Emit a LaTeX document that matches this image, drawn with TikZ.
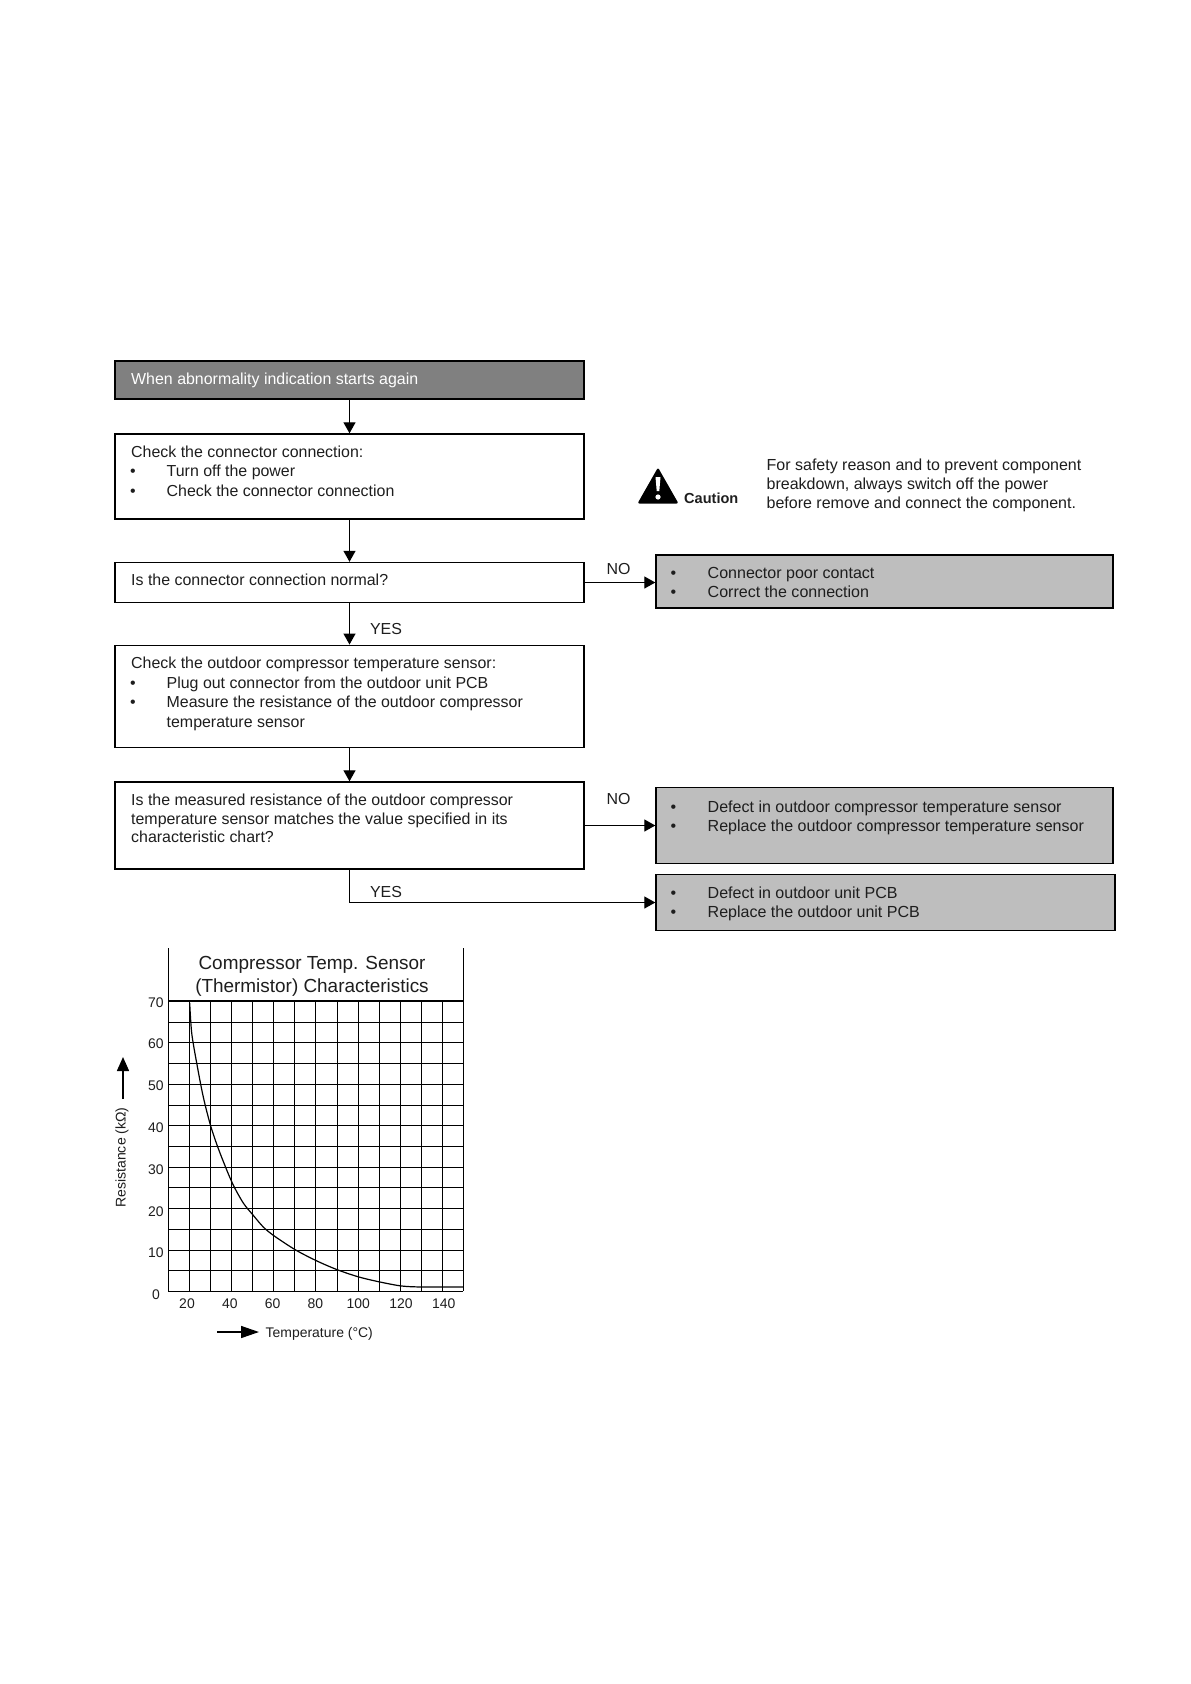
\documentclass[tikz,border=0pt]{standalone}
\usepackage{fontspec}
\setmainfont{Liberation Sans}
\usetikzlibrary{arrows.meta, positioning, calc}
\definecolor{headgray}{RGB}{128,128,128}
\definecolor{boxgray}{RGB}{190,190,190}
\definecolor{inkgray}{RGB}{30,30,30}
\newcommand{\bul}[1]{\makebox[35.5bp][l]{\hspace{-1bp}\textbullet}#1}
\newcommand{\bulb}[1]{\makebox[36bp][l]{\hspace{-1bp}\textbullet}#1}

\begin{document}
\begin{tikzpicture}[
    x=1bp, y=-1bp,
    flowbox/.style={rectangle, draw=black, fill=white, line width=1.4bp, inner sep=0pt},
    headbox/.style={flowbox, fill=headgray},
    endbox/.style={flowbox, fill=boxgray},
    boxtext/.style={anchor=north west, align=left, inner sep=0pt, text=inkgray, font=\fontsize{16}{19.6}\selectfont},
    endtext/.style={boxtext, font=\fontsize{16.1}{19.6}\selectfont},
    tag/.style={inner sep=0pt, text=inkgray, font=\fontsize{16}{19}\selectfont},
    ticklabel/.style={inner sep=0pt, text=inkgray, font=\fontsize{14}{16}\selectfont},
    arrow/.style={-{Triangle[length=11bp, width=12bp]}, line width=1.3bp, color=black},
    gridline/.style={line width=1.5bp, color=black}
]

\fill[white] (0,0) rectangle (1190,1684);
\useasboundingbox (0,0) rectangle (1190,1684);

% Flow boxes
\node[headbox, minimum width=469bp, minimum height=38bp] (again) at (349.5,380) {};
\node[flowbox, minimum width=469bp, minimum height=85bp] (check) at (349.5,476.5) {};
\node[flowbox, minimum width=469bp, minimum height=40bp] (normal) at (349.5,582.5) {};
\node[flowbox, minimum width=469bp, minimum height=102.5bp] (sensor) at (349.5,696.5) {};
\node[flowbox, minimum width=469bp, minimum height=87bp] (measure) at (349.5,825.5) {};

% Result boxes
\node[endbox, minimum width=457bp, minimum height=53bp] (poor) at (884.5,581.5) {};
\node[endbox, minimum width=457bp, minimum height=76bp] (defect) at (884.5,825.5) {};
\node[endbox, minimum width=459bp, minimum height=56bp] (pcb) at (885.5,902.5) {};

% Box texts
\node[boxtext, text=white, anchor=west] (againtxt) at (131,380) {When abnormality indication starts again};
\node[boxtext] (checktxt) at (131,445.5) {Check the connector connection:\\\bul{Turn off the power}\\\bul{Check the connector connection}};
\node[boxtext, anchor=west] (normaltxt) at (131,579.5) {Is the connector connection normal?};
\node[boxtext] (sensortxt) at (131,657) {Check the outdoor compressor temperature sensor:\\\bul{Plug out connector from the outdoor unit PCB}\\\bul{Measure the resistance of the outdoor compressor}\\\hspace*{35.5bp}temperature sensor};
\node[boxtext, font=\fontsize{16}{18.9}\selectfont] (measuretxt) at (131,793.5) {Is the measured resistance of the outdoor compressor\\temperature sensor matches the value specified in its\\characteristic chart?};
\node[endtext] (poortxt) at (671.5,567) {\bulb{Connector poor contact}\\\bulb{Correct the connection}};
\node[endtext] (defecttxt) at (671.5,800.5) {\bulb{Defect in outdoor compressor temperature sensor}\\\bulb{Replace the outdoor compressor temperature sensor}};
\node[endtext] (pcbtxt) at (671.5,886.5) {\bulb{Defect in outdoor unit PCB}\\\bulb{Replace the outdoor unit PCB}};

% Arrows
\draw[arrow] (again) -- (check);
\draw[arrow] (check) -- (normal);
\draw[arrow] (normal) -- (sensor);
\draw[arrow] (sensor) -- (measure);
\draw[arrow] (normal.east) -- (normal.east -| poor.west);
\draw[arrow] (measure.east) -- (defect.west);
\draw[arrow] (measure.south) |- (pcb.west);

% Labels
\node[tag] (noa) at (618.5,569.5) {NO};
\node[tag] (nob) at (618.5,799) {NO};
\node[tag] (yesa) at (386,629) {YES};
\node[tag] (yesb) at (386,892) {YES};

% Caution
\fill[black, rounded corners=2bp] (637.5,503.5) -- (658,467.5) -- (678.5,503.5) -- cycle;
\fill[white] (655.5,477) -- (660.5,477) -- (659.3,491) -- (656.7,491) -- cycle;
\fill[white] (658,497) circle (2.6bp);
\node[inner sep=0pt, anchor=west, text=inkgray, font=\fontsize{14.6}{16}\selectfont\bfseries] (caution) at (684,498.5) {Caution};
\node[boxtext, font=\fontsize{16.05}{19.1}\selectfont] (safety) at (766.5,458.5) {For safety reason and to prevent component\\breakdown, always switch off the power\\before remove and connect the component.};

% Chart grid
\foreach \i in {0,...,14}
    \draw[gridline] ({round(168+\i*21.07)+0.5},1001) -- ({round(168+\i*21.07)+0.5},1291);
\foreach \i in {0,...,14}
    \draw[gridline] (168,{round(1001+\i*20.71)+0.5}) -- (463,{round(1001+\i*20.71)+0.5});
\draw[gridline] (168.5,948) -- (168.5,1001);
\draw[gridline] (463.5,948) -- (463.5,1001);
\draw[line width=1.8bp] (168,1001) -- (463,1001);

% Chart curve
\draw[line width=1.2bp, smooth] plot coordinates {(189.7,1003) (191.7,1033) (196.7,1063) (203.3,1097) (211,1127) (220,1153) (232.3,1183) (243.3,1203) (253,1215) (263.3,1227) (274.3,1236) (295.7,1250) (317,1261) (338,1270) (359,1277) (380,1282) (401.7,1286) (422.7,1287) (463,1287)};

% Chart title
\node[inner sep=0pt, align=center, text=inkgray, font=\fontsize{19}{23.5}\selectfont] (title) at (312,976.5) {Compressor Temp. Sensor\\(Thermistor) Characteristics};

% Tick labels
\foreach \v [count=\j from 0] in {70,60,50,40,30,20,10}
    \node[ticklabel] (ry\v) at (156,{1002.3+\j*41.8}) {\v};
\node[ticklabel] (ry0) at (156,1294.5) {0};
\foreach \v [count=\j from 0] in {20,40,60,80,100,120,140}
    \node[ticklabel] (tx\v) at ({187+\j*42.8},1304) {\v};

% Axis names
\node[inner sep=0pt, rotate=90, text=inkgray, font=\fontsize{14.1}{16}\selectfont] (resistance) at (122,1157.5) {Resistance (kΩ)};
\node[inner sep=0pt, anchor=west, text=inkgray, font=\fontsize{14}{16}\selectfont] (temperature) at (265.5,1334) {Temperature (°C)};
\coordinate (rfrom) at (123,1099);
\coordinate (rto) at (123,1057);
\coordinate (tfrom) at (217,1332);
\coordinate (tto) at (259,1332);
\draw[-{Triangle[length=14bp, width=12bp]}, line width=1.5bp] (rfrom) -- (rto);
\draw[-{Triangle[length=18bp, width=12bp]}, line width=1.5bp] (tfrom) -- (tto);

\end{tikzpicture}
\end{document}
